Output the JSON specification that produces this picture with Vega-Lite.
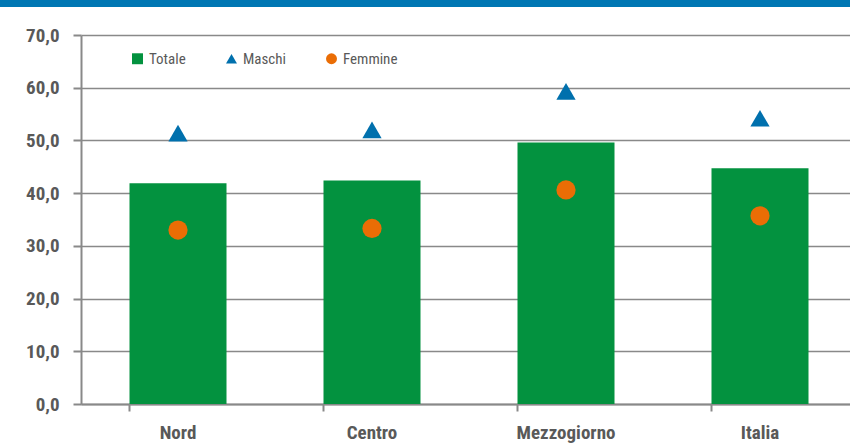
{
  "$schema": "https://vega.github.io/schema/vega-lite/v6.json",
  "width": 769,
  "height": 369,
  "autosize": {"type": "none"},
  "padding": {"left": 81, "top": 35, "right": 0, "bottom": 42},
  "background": "white",
  "config": {
    "view": {"stroke": null},
    "font": "Roboto Condensed, DejaVu Sans Condensed, Roboto, sans-serif",
    "axis": {
      "labelFont": "Roboto Condensed, DejaVu Sans Condensed, Roboto, sans-serif",
      "labelFontWeight": "bold",
      "labelFontSize": 19,
      "labelColor": "#595959",
      "domainColor": "#898989",
      "tickColor": "#898989",
      "gridColor": "#898989",
      "domainWidth": 2,
      "tickWidth": 2,
      "gridWidth": 1.5,
      "title": null
    }
  },
  "datasets": {
    "dati": [
      {"area": "Nord", "serie": "Totale", "valore": 41.9},
      {"area": "Centro", "serie": "Totale", "valore": 42.4},
      {"area": "Mezzogiorno", "serie": "Totale", "valore": 49.6},
      {"area": "Italia", "serie": "Totale", "valore": 44.7},
      {"area": "Nord", "serie": "Maschi", "valore": 51.4},
      {"area": "Centro", "serie": "Maschi", "valore": 52.0},
      {"area": "Mezzogiorno", "serie": "Maschi", "valore": 59.3},
      {"area": "Italia", "serie": "Maschi", "valore": 54.2},
      {"area": "Nord", "serie": "Femmine", "valore": 33.0},
      {"area": "Centro", "serie": "Femmine", "valore": 33.3},
      {"area": "Mezzogiorno", "serie": "Femmine", "valore": 40.6},
      {"area": "Italia", "serie": "Femmine", "valore": 35.7}
    ]
  },
  "data": {"name": "dati"},
  "encoding": {
    "x": {
      "field": "area",
      "type": "nominal",
      "sort": ["Nord", "Centro", "Mezzogiorno", "Italia"],
      "scale": {"range": [0, 776], "paddingInner": 0.5, "paddingOuter": 0.25},
      "axis": {
        "labelAngle": 0,
        "bandPosition": 0,
        "tickSize": 7,
        "labelPadding": 12,
        "labelBaseline": "top",
        "grid": false
      }
    },
    "y": {
      "field": "valore",
      "type": "quantitative",
      "scale": {"domain": [0, 70], "nice": false},
      "axis": {
        "values": [0, 10, 20, 30, 40, 50, 60, 70],
        "format": ".1f",
        "labelExpr": "replace(datum.label, '.', ',')",
        "tickSize": 8,
        "labelPadding": 14,
        "grid": true,
        "domain": true
      }
    }
  },
  "layer": [
    {
      "transform": [{"filter": "datum.serie === 'Totale'"}],
      "mark": {"type": "bar", "color": "#03923f"}
    },
    {
      "transform": [{"filter": "datum.serie !== 'Totale'"}],
      "mark": {"type": "point", "filled": true, "opacity": 1, "size": 370},
      "encoding": {
        "color": {
          "field": "serie",
          "type": "nominal",
          "scale": {"domain": ["Totale", "Maschi", "Femmine"], "range": ["#03923f", "#0070ad", "#ea6d05"]},
          "legend": {
            "title": null,
            "orient": "none",
            "legendX": 49,
            "legendY": 16,
            "direction": "horizontal",
            "labelFont": "Roboto Condensed, DejaVu Sans Condensed, Roboto, sans-serif",
            "labelFontSize": 15,
            "labelColor": "#595959",
            "symbolSize": 120,
            "labelOffset": 4,
            "columnPadding": 38
          }
        },
        "shape": {
          "field": "serie",
          "type": "nominal",
          "scale": {"domain": ["Totale", "Maschi", "Femmine"], "range": ["square", "triangle-up", "circle"]},
          "legend": null
        }
      }
    },
    {
      "mark": {"type": "rule", "color": "#0077b3", "strokeWidth": 7, "clip": false},
      "encoding": {
        "x": {"value": -81},
        "x2": {"value": 769},
        "y": {"datum": 76},
        "y2": {"datum": 76}
      }
    }
  ]
}
